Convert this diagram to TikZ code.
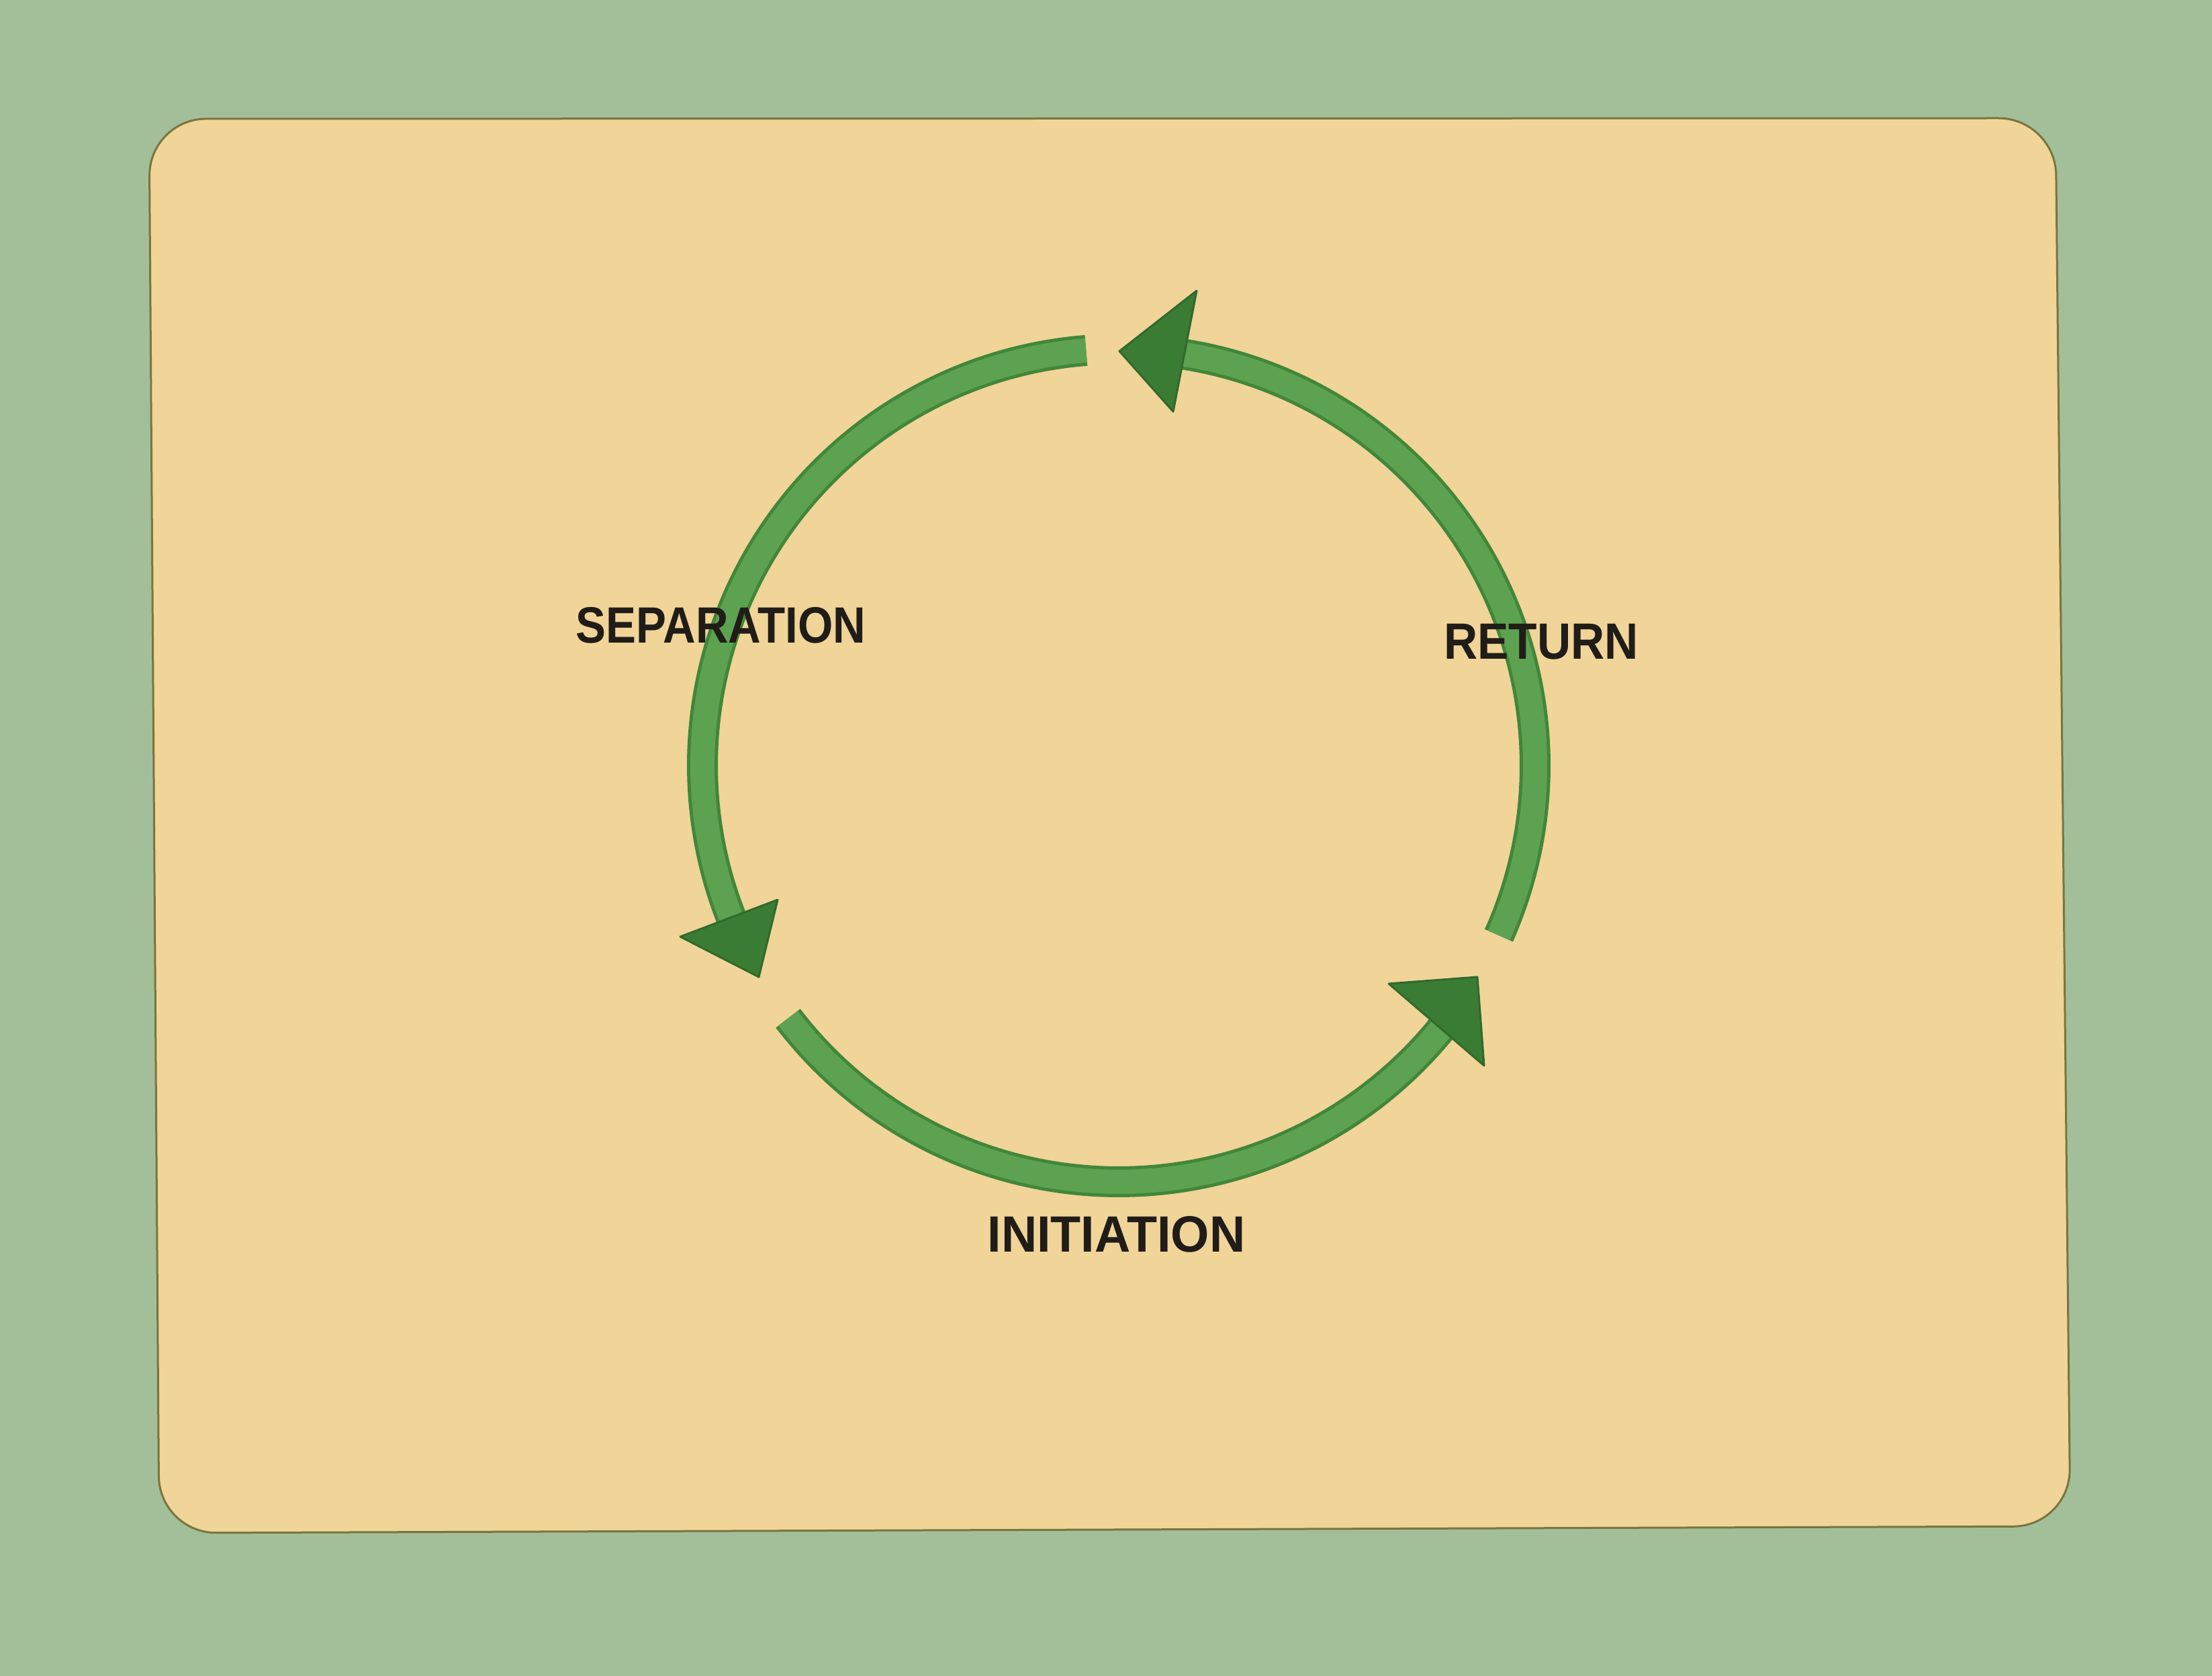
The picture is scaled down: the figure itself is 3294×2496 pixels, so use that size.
\documentclass[tikz,border=0pt]{standalone}
\usepackage{fontspec}
\setmainfont{Liberation Sans}
\definecolor{border}{RGB}{163,191,153}
\definecolor{paper}{RGB}{240,212,152}
\definecolor{paperedge}{RGB}{120,118,62}
\definecolor{shaftdark}{RGB}{66,134,58}
\definecolor{shaftlight}{RGB}{92,162,80}
\definecolor{headgreen}{RGB}{58,124,52}
\definecolor{ink}{RGB}{32,28,24}
\begin{document}
\begin{tikzpicture}[x=1pt,y=1pt,
  shaft/.style={draw=shaftdark,double=shaftlight,double distance=36pt,line width=5pt,line cap=butt},
  head/.style={fill=headgreen,draw=headgreen!85!black,line width=3pt,line join=round},
  label/.style={font=\bfseries\fontsize{76}{80}\selectfont,text=ink,anchor=base,inner sep=0pt,transform shape}]
\useasboundingbox (0,0) rectangle (3294,2496);
\fill[border] (0,0) rectangle (3294,2496);
\filldraw[fill=paper,draw=paperedge,line width=3pt,rounded corners=85pt]
  (222,2319) -- (3061,2320) -- (3083,223) -- (237,213) -- cycle;
\coordinate (c) at (1666,1356);
% separation
\draw[shaft] ([shift={(94.5:620)}]c) arc[start angle=94.5,end angle=203,radius=620];
\path[head] (1130,1041) -- (1013,1101) -- (1158,1156) -- cycle;
% initiation
\draw[shaft] ([shift={(217.4:620)}]c) arc[start angle=217.4,end angle=322,radius=620];
\path[head] (2200,1041) -- (2068,1031) -- (2210,909) -- cycle;
% return
\draw[shaft] ([shift={(-24.1:620)}]c) arc[start angle=-24.1,end angle=83,radius=620];
\path[head] (1667,1973) -- (1782,2063) -- (1747,1883) -- cycle;
% labels
\node[label,xscale=0.886] (sep) at (1073.5,1538) {SEPARATION};
\node[label,xscale=0.915] (ret) at (2295,1514) {RETURN};
\node[label,xscale=0.97] (ini) at (1662.5,631) {INITIATION};
\end{tikzpicture}
\end{document}
